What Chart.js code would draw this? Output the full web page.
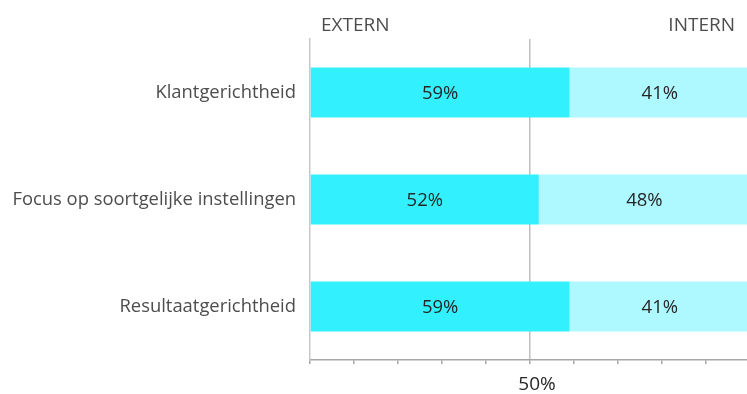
<!DOCTYPE html>
<html>
<head>
<meta charset="utf-8">
<script src="https://cdn.jsdelivr.net/npm/chart.js@4"></script>
<style>
html,body{margin:0;padding:0;background:#fff;overflow:hidden;}
#wrap{width:770px;height:394px;}
</style>
</head>
<body>
<div id="wrap"><canvas id="c" width="770" height="394"></canvas></div>
<script>
const categories = ["Klantgerichtheid", "Focus op soortgelijke instellingen", "Resultaatgerichtheid"];
const seriesNames = ["EXTERN", "INTERN"];
const externValues = [59, 52, 59];
const internValues = [41, 48, 41];
const xTickLabels = {50: "50%"};

const FONT = "'Open Sans', sans-serif";
const TEXT = "#4D4D4D";

const labelPlugin = {
  id: "labels",
  afterDatasetsDraw(chart) {
    const ctx = chart.ctx;
    ctx.save();
    ctx.font = "18.5px " + FONT;
    ctx.fillStyle = "#262626";
    ctx.textAlign = "center";
    ctx.textBaseline = "middle";
    chart.data.datasets.forEach((ds, di) => {
      chart.getDatasetMeta(di).data.forEach((bar, i) => {
        const x = (bar.x + bar.base) / 2;
        ctx.fillText(ds.data[i] + "%", x, bar.y + 1);
      });
    });
    // series headings
    ctx.fillStyle = TEXT;
    ctx.font = "19px " + FONT;
    ctx.textBaseline = "alphabetic";
    ctx.textAlign = "left";
    ctx.fillText(seriesNames[0], chart.chartArea.left + 11, 31);
    ctx.textAlign = "right";
    ctx.fillText(seriesNames[1], 735, 31);
    ctx.restore();
  }
};

new Chart(document.getElementById("c"), {
  type: "bar",
  data: {
    labels: categories,
    datasets: [
      {label: seriesNames[0], data: externValues, backgroundColor: "#33F0FF", borderWidth: 0,
       barPercentage: 0.465, categoryPercentage: 1},
      {label: seriesNames[1], data: internValues, backgroundColor: "#AEF8FF", borderWidth: 0,
       barPercentage: 0.465, categoryPercentage: 1}
    ]
  },
  options: {
    indexAxis: "y",
    responsive: false,
    animation: false,
    devicePixelRatio: 1,
    layout: {padding: {top: 39, right: 20, left: 0, bottom: 0}},
    plugins: {legend: {display: false}, tooltip: {enabled: false}, title: {display: false}},
    scales: {
      x: {
        stacked: true,
        min: 0, max: 100,
        afterFit(scale) { scale.height = 34; },
        ticks: {
          stepSize: 10, autoSkip: false, maxRotation: 0,
          padding: 9,
          labelOffset: 7,
          color: "#262626",
          font: {family: FONT, size: 19},
          callback: (v) => xTickLabels[v] || ""
        },
        grid: {
          color: (c) => (c.tick && c.tick.value === 50) ? "#BFBFBF" : "rgba(0,0,0,0)",
          tickColor: "#A6A6A6",
          tickLength: 4,
          lineWidth: 1.5
        },
        border: {display: true, color: "#A6A6A6", width: 1.5}
      },
      y: {
        stacked: true,
        afterFit(scale) { scale.width = 310; },
        ticks: {
          color: TEXT,
          padding: 14,
          font: {family: FONT, size: 18.4}
        },
        grid: {display: true, drawTicks: false, color: "rgba(0,0,0,0)"},
        border: {display: true, color: "#C8C8C8", width: 1.5}
      }
    }
  },
  plugins: [labelPlugin]
});
</script>
</body>
</html>
